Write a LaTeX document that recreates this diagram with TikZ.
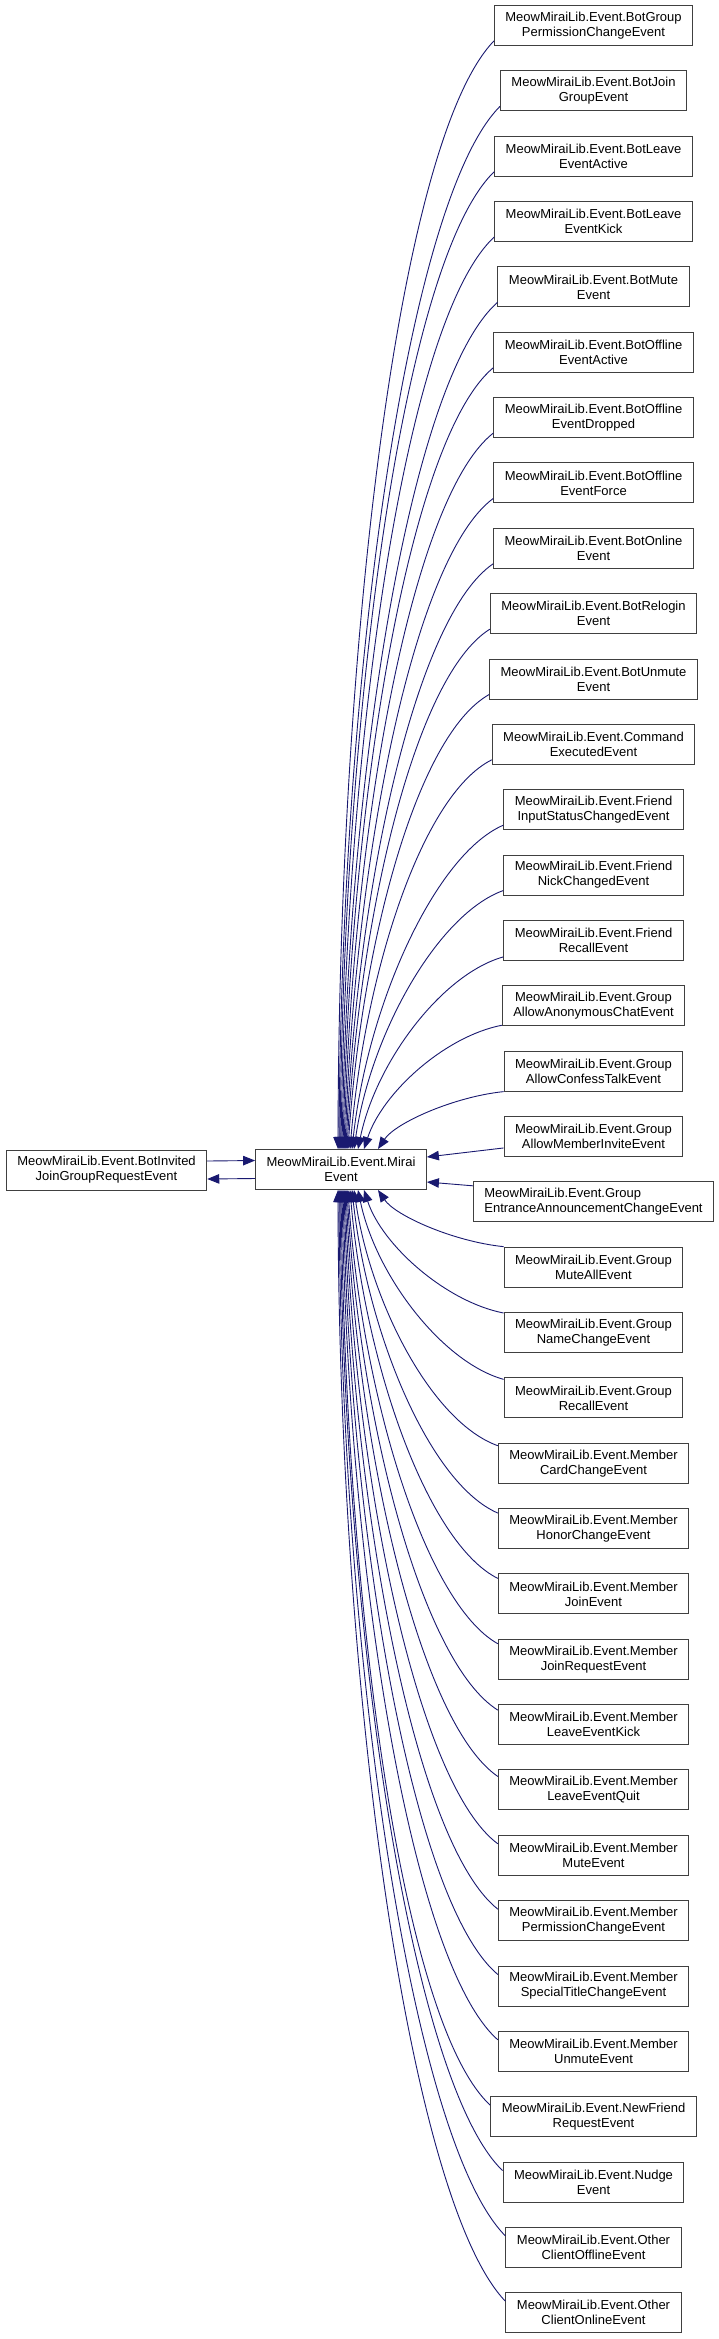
\documentclass[tikz,border=0pt]{standalone}
\usepackage{fontspec}
\setmainfont{Liberation Sans}
\usetikzlibrary{arrows.meta}
\definecolor{edgeblue}{RGB}{25,25,112}
\definecolor{boxgray}{RGB}{64,64,64}
\tikzset{
  cls/.style={draw=boxgray, line width=1pt, fill=white, align=center,
    inner xsep=11pt, inner ysep=0pt, minimum height=40pt,
    font=\fontsize{13}{15}\selectfont},
  edge/.style={draw=edgeblue, line width=0.9pt,
    -{Triangle[length=12pt,width=9.5pt]}}
}
\begin{document}
\begin{tikzpicture}[x=1pt, y=-1pt]
    \useasboundingbox[fill=white] (0,0) rectangle (719,2339);
    % base class and the invited event
    \node[cls] (invited) at (106.5,1170) {MeowMiraiLib.Event.BotInvited\\JoinGroupRequestEvent};
    \node[cls] (mirai) at (341,1169.5) {MeowMiraiLib.Event.Mirai\\Event};
    \draw[edge] ([yshift=9pt]invited.east) -- ([yshift=9pt]mirai.west);
    \draw[edge] ([yshift=-9pt]mirai.west) -- ([yshift=-9pt]invited.east);
    % derived events
    \node[cls] (e1) at (593.5,25.5) {MeowMiraiLib.Event.BotGroup\\PermissionChangeEvent};
    \node[cls] (e2) at (593.5,90.85) {MeowMiraiLib.Event.BotJoin\\GroupEvent};
    \node[cls] (e3) at (593.5,156.2) {MeowMiraiLib.Event.BotLeave\\EventActive};
    \node[cls] (e4) at (593.5,221.55) {MeowMiraiLib.Event.BotLeave\\EventKick};
    \node[cls] (e5) at (593.5,286.9) {MeowMiraiLib.Event.BotMute\\Event};
    \node[cls] (e6) at (593.5,352.25) {MeowMiraiLib.Event.BotOffline\\EventActive};
    \node[cls] (e7) at (593.5,417.6) {MeowMiraiLib.Event.BotOffline\\EventDropped};
    \node[cls] (e8) at (593.5,482.95) {MeowMiraiLib.Event.BotOffline\\EventForce};
    \node[cls] (e9) at (593.5,548.3) {MeowMiraiLib.Event.BotOnline\\Event};
    \node[cls] (e10) at (593.5,613.65) {MeowMiraiLib.Event.BotRelogin\\Event};
    \node[cls] (e11) at (593.5,679) {MeowMiraiLib.Event.BotUnmute\\Event};
    \node[cls] (e12) at (593.5,744.35) {MeowMiraiLib.Event.Command\\ExecutedEvent};
    \node[cls] (e13) at (593.5,809.7) {MeowMiraiLib.Event.Friend\\InputStatusChangedEvent};
    \node[cls] (e14) at (593.5,875.05) {MeowMiraiLib.Event.Friend\\NickChangedEvent};
    \node[cls] (e15) at (593.5,940.4) {MeowMiraiLib.Event.Friend\\RecallEvent};
    \node[cls] (e16) at (593.5,1005.75) {MeowMiraiLib.Event.Group\\AllowAnonymousChatEvent};
    \node[cls] (e17) at (593.5,1071.1) {MeowMiraiLib.Event.Group\\AllowConfessTalkEvent};
    \node[cls] (e18) at (593.5,1136.45) {MeowMiraiLib.Event.Group\\AllowMemberInviteEvent};
    \node[cls, align=left] (e19) at (593.5,1201.8) {MeowMiraiLib.Event.Group\\EntranceAnnouncementChangeEvent};
    \node[cls] (e20) at (593.5,1267.15) {MeowMiraiLib.Event.Group\\MuteAllEvent};
    \node[cls] (e21) at (593.5,1332.5) {MeowMiraiLib.Event.Group\\NameChangeEvent};
    \node[cls] (e22) at (593.5,1397.85) {MeowMiraiLib.Event.Group\\RecallEvent};
    \node[cls] (e23) at (593.5,1463.2) {MeowMiraiLib.Event.Member\\CardChangeEvent};
    \node[cls] (e24) at (593.5,1528.55) {MeowMiraiLib.Event.Member\\HonorChangeEvent};
    \node[cls] (e25) at (593.5,1593.9) {MeowMiraiLib.Event.Member\\JoinEvent};
    \node[cls] (e26) at (593.5,1659.25) {MeowMiraiLib.Event.Member\\JoinRequestEvent};
    \node[cls] (e27) at (593.5,1724.6) {MeowMiraiLib.Event.Member\\LeaveEventKick};
    \node[cls] (e28) at (593.5,1789.95) {MeowMiraiLib.Event.Member\\LeaveEventQuit};
    \node[cls] (e29) at (593.5,1855.3) {MeowMiraiLib.Event.Member\\MuteEvent};
    \node[cls] (e30) at (593.5,1920.65) {MeowMiraiLib.Event.Member\\PermissionChangeEvent};
    \node[cls] (e31) at (593.5,1986) {MeowMiraiLib.Event.Member\\SpecialTitleChangeEvent};
    \node[cls] (e32) at (593.5,2051.35) {MeowMiraiLib.Event.Member\\UnmuteEvent};
    \node[cls] (e33) at (593.5,2116.7) {MeowMiraiLib.Event.NewFriend\\RequestEvent};
    \node[cls] (e34) at (593.5,2182.05) {MeowMiraiLib.Event.Nudge\\Event};
    \node[cls] (e35) at (593.5,2247.4) {MeowMiraiLib.Event.Other\\ClientOfflineEvent};
    \node[cls] (e36) at (593.5,2312.75) {MeowMiraiLib.Event.Other\\ClientOnlineEvent};
    % upper edges into the top of MiraiEvent
    \foreach \i/\ex/\sy in {1/-3/5, 2/-2/5, 3/-1/5, 4/0/5, 5/1/5, 6/2/5, 7/3/5, 8/4/5,
        9/5/5, 10/6/5, 11/7/5, 12/9/5, 13/11/5, 14/13/5, 15/17/4, 16/23/1, 17/37/0} {
      \pgfmathsetmacro\cdy{1149-(25.5+(\i-1)*65.35+20-\sy)}
      \pgfmathsetmacro\cdx{500-341-\ex}
      \pgfmathsetmacro\ca{-(0.4+0.2*\cdy/1150)*\cdx}
      \pgfmathsetmacro\cb{0.09*\cdy}
      \pgfmathsetmacro\cc{0.15*\cdx*(1-\cdy/1150)}
      \pgfmathsetmacro\cd{-0.45*\cdy}
      \draw[edge] ([yshift=\sy pt]e\i.south west) .. controls +(\ca,\cb) and +(\cc,\cd) .. ([xshift=\ex pt]mirai.north);
    }
    % the two straight ones
    \draw[edge] ([yshift=9pt]e18.south west) -- ([yshift=12.5pt]mirai.east);
    \draw[edge] ([yshift=-4.5pt]e19.north west) -- ([yshift=-12.5pt]mirai.east);
    % lower edges into the bottom of MiraiEvent
    \foreach \i/\ex/\sy in {20/37/0, 21/23/-1, 22/17/-2, 23/13/-3, 24/11/-5, 25/9/-5, 26/7/-5,
        27/6/-6, 28/5/-7, 29/4/-9, 30/3/-9, 31/2/-9, 32/1/-9, 33/0/-9, 34/-1/-9, 35/-2/-9, 36/-3/-9} {
      \pgfmathsetmacro\cdy{(25.5+(\i-1)*65.35-20-\sy)-1190}
      \pgfmathsetmacro\cdx{500-341-\ex}
      \pgfmathsetmacro\ca{-(0.4+0.2*\cdy/1150)*\cdx}
      \pgfmathsetmacro\cb{-0.09*\cdy}
      \pgfmathsetmacro\cc{0.15*\cdx*(1-\cdy/1150)}
      \pgfmathsetmacro\cd{0.45*\cdy}
      \draw[edge] ([yshift=\sy pt]e\i.north west) .. controls +(\ca,\cb) and +(\cc,\cd) .. ([xshift=\ex pt]mirai.south);
    }
\end{tikzpicture}
\end{document}
